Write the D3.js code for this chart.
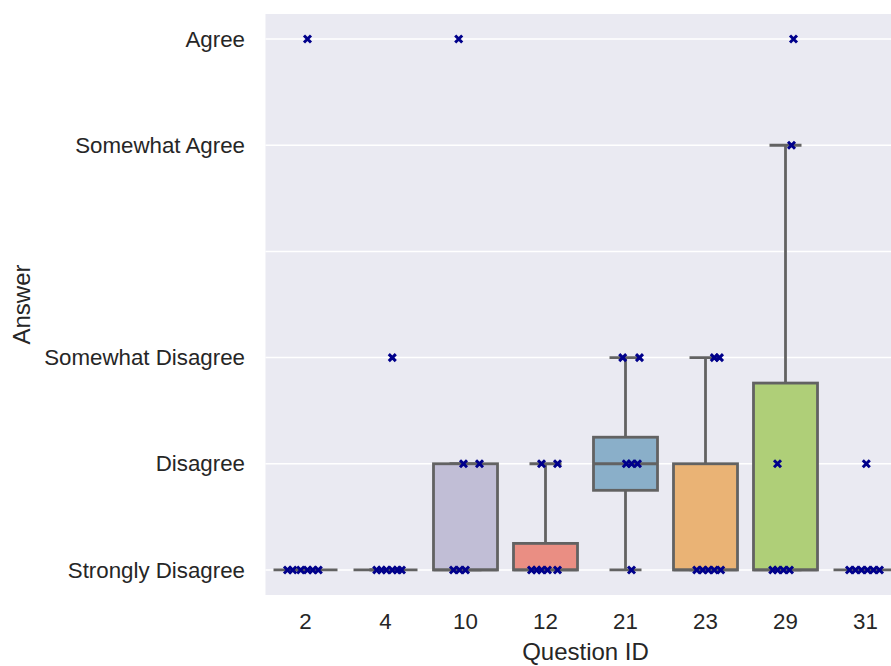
<!DOCTYPE html>
<html>
<head>
<meta charset="utf-8">
<script src="https://cdn.jsdelivr.net/npm/d3@7"></script>
<style>
  html, body { margin: 0; padding: 0; background: #ffffff; }
  svg { display: block; }
  text { font-family: "Liberation Sans", Arial, sans-serif; fill: #262626; }
</style>
</head>
<body>
<svg id="chart" width="891" height="666"></svg>
<script>
// Question IDs along the x axis
const questionIds = ["2", "4", "10", "12", "21", "23", "29", "31"];

// Likert answer levels, coded 1..6 (4 = neutral, left unlabeled)
const answerCodes = [1, 2, 3, 4, 5, 6];
const answerLabels = ["Strongly Disagree", "Disagree", "Somewhat Disagree", "", "Somewhat Agree", "Agree"];

// Box summaries per question
const boxQ1 = [1, 1, 1, 1, 1.75, 1, 1, 1];
const boxMedian = [1, 1, 1, 1, 2, 1, 1, 1];
const boxQ3 = [1, 1, 2, 1.25, 2.25, 2, 2.76, 1];
const whiskerLow = [1, 1, 1, 1, 1, 1, 1, 1];
const whiskerHigh = [1, 1, 2, 2, 3, 3, 5, 1];

// Individual responses per question
const responses = [
  [1, 1, 1, 1, 1, 1, 6],
  [1, 1, 1, 1, 1, 1, 3],
  [1, 1, 1, 2, 2, 6],
  [1, 1, 1, 1, 1, 2, 2],
  [1, 2, 2, 2, 3, 3],
  [1, 1, 1, 1, 1, 3, 3],
  [1, 1, 1, 1, 2, 5, 6],
  [1, 1, 1, 1, 1, 1, 2]
];
// Strip-plot jitter, as a fraction of the category band
const jitter = [
  [-0.225, -0.16, -0.06, 0.025, 0.09, 0.16, 0.025],
  [-0.11, -0.05, 0.01, 0.085, 0.15, 0.2, 0.085],
  [-0.15, -0.075, 0.0, -0.025, 0.175, -0.085],
  [-0.175, -0.11, -0.05, 0.025, 0.15, -0.05, 0.15],
  [0.075, 0.01, 0.075, 0.15, -0.035, 0.175],
  [-0.11, -0.035, 0.035, 0.11, 0.19, 0.11, 0.175],
  [-0.16, -0.1, -0.025, 0.05, -0.1, 0.075, 0.1],
  [-0.2, -0.125, -0.05, 0.025, 0.1, 0.175, 0.01]
];

const basePalette = ["#8dd3c7", "#ffffb3", "#bebada", "#fb8072", "#80b1d3", "#fdb462", "#b3de69", "#fccde5"];

// seaborn-style desaturation of the box fills
const boxFill = basePalette.map(c => { const h = d3.hsl(c); h.s *= 0.75; return h.formatHex(); });
const lineGray = "#626262";

const svg = d3.select("#chart");
const plot = { left: 265.5, right: 905.5, top: 14, bottom: 595 };

const x = d3.scaleBand().domain(questionIds).range([plot.left, plot.right]).padding(0);
const y = d3.scaleLinear().domain([0.764, 6.236]).range([plot.bottom, plot.top]);

// axes background
svg.append("rect")
  .attr("x", plot.left).attr("y", plot.top)
  .attr("width", plot.right - plot.left).attr("height", plot.bottom - plot.top)
  .attr("fill", "#eaeaf2");

// horizontal grid
svg.append("g").selectAll("line").data(answerCodes).join("line")
  .attr("x1", plot.left).attr("x2", plot.right)
  .attr("y1", d => y(d)).attr("y2", d => y(d))
  .attr("stroke", "#ffffff").attr("stroke-width", 1.5);

// y axis
const yAxis = d3.axisLeft(y).tickValues(answerCodes)
  .tickFormat((d, i) => answerLabels[i]).tickSize(0).tickPadding(20.5);
const gy = svg.append("g").attr("transform", `translate(${plot.left},0)`).call(yAxis);
gy.select(".domain").remove();
gy.selectAll("text").attr("font-size", 22.3).style("font-family", "'Liberation Sans', Arial, sans-serif").attr("fill", "#262626");

// x axis
const xAxis = d3.axisBottom(x).tickSize(0).tickPadding(18);
const gx = svg.append("g").attr("transform", `translate(0,${plot.bottom})`).call(xAxis);
gx.select(".domain").remove();
gx.selectAll("text").attr("font-size", 22.3).style("font-family", "'Liberation Sans', Arial, sans-serif").attr("fill", "#262626");

// axis titles
svg.append("text")
  .attr("x", (plot.left + plot.right) / 2).attr("y", 659.5)
  .attr("text-anchor", "middle").attr("font-size", 24)
  .text("Question ID");
svg.append("text")
  .attr("transform", `translate(30,${(plot.top + plot.bottom) / 2}) rotate(-90)`)
  .attr("text-anchor", "middle").attr("font-size", 24)
  .text("Answer");

// box plots
const boxW = x.bandwidth() * 0.8;
const capW = boxW / 2;
const boxes = svg.append("g").selectAll("g").data(questionIds).join("g");
boxes.each(function (q, i) {
  const g = d3.select(this);
  const cx = x(q) + x.bandwidth() / 2;
  // whiskers
  g.append("line").attr("x1", cx).attr("x2", cx)
    .attr("y1", y(boxQ3[i])).attr("y2", y(whiskerHigh[i]))
    .attr("stroke", lineGray).attr("stroke-width", 2.8);
  g.append("line").attr("x1", cx).attr("x2", cx)
    .attr("y1", y(boxQ1[i])).attr("y2", y(whiskerLow[i]))
    .attr("stroke", lineGray).attr("stroke-width", 2.8);
  // caps
  [whiskerHigh[i], whiskerLow[i]].forEach(v => {
    g.append("line").attr("x1", cx - capW / 2).attr("x2", cx + capW / 2)
      .attr("y1", y(v)).attr("y2", y(v))
      .attr("stroke", lineGray).attr("stroke-width", 2.8);
  });
  // box
  g.append("rect")
    .attr("x", cx - boxW / 2).attr("width", boxW)
    .attr("y", y(boxQ3[i])).attr("height", y(boxQ1[i]) - y(boxQ3[i]))
    .attr("fill", boxFill[i]).attr("stroke", lineGray).attr("stroke-width", 2.8);
  // median
  g.append("line").attr("x1", cx - boxW / 2).attr("x2", cx + boxW / 2)
    .attr("y1", y(boxMedian[i])).attr("y2", y(boxMedian[i]))
    .attr("stroke", lineGray).attr("stroke-width", 2.8);
});

// strip points as "x" markers
const pts = [];
questionIds.forEach((q, i) => responses[i].forEach((v, j) => pts.push({ q, v, jit: jitter[i][j] })));
const m = 3.5;
svg.append("g").selectAll("path").data(pts).join("path")
  .attr("transform", d => `translate(${x(d.q) + x.bandwidth() / 2 + d.jit * x.bandwidth()},${y(d.v)})`)
  .attr("d", `M${-m},${-m}L${m},${m}M${-m},${m}L${m},${-m}`)
  .attr("stroke", "#00008b").attr("stroke-width", 3).attr("fill", "none");
</script>
</body>
</html>
